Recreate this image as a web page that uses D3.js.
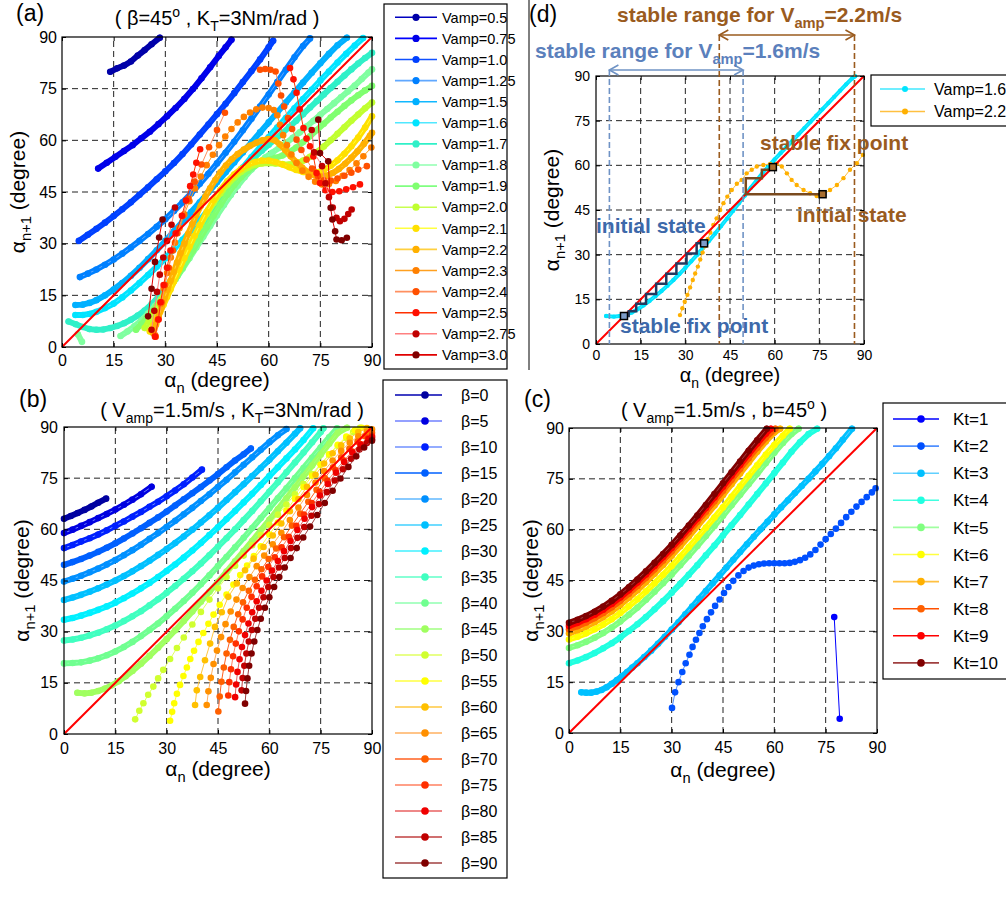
<!DOCTYPE html>
<html>
<head>
<meta charset="utf-8">
<script src="https://cdn.jsdelivr.net/npm/d3@7"></script>
<style>
body { margin: 0; background: #fff; }
svg { font-family: "Liberation Sans", Arial, sans-serif; }
</style>
</head>
<body>
<div id="vis"></div>
<script>
// ---------- data ----------
var degTicks = [0, 15, 30, 45, 60, 75, 90];
var gridVals = [15, 30, 45, 60, 75];

// (a) beta = 45, Kt = 3 : alpha_n, alpha_n+1 pairs (null,null = gap)
var vampNames = ['Vamp=0.5','Vamp=0.75','Vamp=1.0','Vamp=1.25','Vamp=1.5','Vamp=1.6','Vamp=1.7','Vamp=1.8','Vamp=1.9','Vamp=2.0','Vamp=2.1','Vamp=2.2','Vamp=2.3','Vamp=2.4','Vamp=2.5','Vamp=2.75','Vamp=3.0'];
var vampMarker = ['#0000a8','#0000e8','#0040ff','#0080ff','#00b0ff','#00e4ff','#30f0c8','#80ffa0','#80ff70','#c0ff30','#ffe000','#ffb000','#ff8000','#ff5000','#ff1000','#c00000','#800000'];
var vampLine = ['#0000c0','#0000ff','#1050ff','#60a8ff','#10b8ff','#50e8ff','#30f0c8','#90ffb0','#80ff80','#c8ff50','#ffff40','#ffd040','#ffa020','#ff9060','#ff3000','#ff8080','#e00000'];
var vampCurves = [
  [14,79.9, 16,80.9, 18,81.7, 20,82.9, 22,84.6, 24,86.2, 26,87.9, 28.4,89.8],
  [10.5,51.8, 13,53.5, 15.5,55.2, 18,56.9, 20.5,58.6, 23,60.6, 25.5,62.5, 28,64.7, 30.5,67, 33,69.4, 35.5,72, 38,74.9, 40.5,78, 43,81.2, 45.5,84.5, 47.5,87, 49.2,89.2],
  [4.9,30.8, 7.5,32.6, 10,34.3, 12.5,36.1, 15,38, 17.5,40, 20,42, 22.5,44.2, 25,46.4, 27.5,48.7, 30,51, 32.5,53.4, 35,56, 37.5,58.8, 40,61.7, 42.5,64.6, 45,67.6, 47.5,70.6, 50,73.7, 52.5,76.9, 55,80.1, 57.5,83.5, 60,87, 61.3,88.9],
  [5.2,20.3, 7.5,21.3, 10,22.5, 12.5,23.9, 15,25.4, 17.5,27.1, 20,28.9, 22.5,30.8, 25,32.8, 27.5,34.9, 30,37.1, 32.5,39.5, 35,42, 37.5,44.6, 40,47.4, 42.5,50.3, 45,53.3, 47.5,56.4, 50,59.6, 52.5,62.9, 55,66.3, 57.5,69.8, 60,73.3, 62.5,76.9, 65,80.5, 67.5,84.1, 70,87.4, 72,89.6],
  [3.9,12.2, 6,12.3, 8,12.8, 10,13.6, 12.5,15, 15,16.7, 17.5,18.6, 20,20.7, 22.5,23, 25,25.5, 27.5,28.1, 30,30.8, 32.5,33.6, 35,36.4, 37.5,39.2, 40,42, 42.5,44.9, 45,47.8, 47.5,50.7, 50,53.6, 52.5,56.5, 55,59.4, 57.5,62.3, 60,65.2, 62.5,68.1, 65,71, 67.5,73.9, 70,76.8, 72.5,79.6, 75,82.4, 77.5,85.1, 80,87.6, 82.7,89.8],
  [3.9,9.3, 6,9.3, 8,9.6, 10,10.2, 12.5,11.3, 15,12.6, 17.5,14.4, 20,16.4, 22.5,18.6, 25,20.9, 27.5,23.3, 30,25.8, 32.5,28.4, 35,31.1, 37.5,33.9, 40,36.8, 42.5,39.8, 45,42.8, 47.5,45.9, 50,49, 52.5,52.1, 55,55.1, 57.5,58, 60,60.9, 62.5,63.7, 65,66.5, 67.5,69.3, 70,72, 72.5,74.7, 75,77.4, 77.5,80, 80,82.6, 82.5,85.1, 85,87.5, 87.4,89.7],
  [1.9,7.4, 4,6.6, 6,5.8, 8,5.2, 10,5, 12,5.1, 14,5.5, 16,6.1, 18,6.9, 20,7.9, 22,9.1, 24,10.6, 26,12.4, 28,14.6, 30,17.2, 32,20, 34,23, 36,26.1, 38,29.3, 40,32.5, 42,35.7, 44,38.9, 46,42, 48,45, 50,47.9, 52,50.6, 54,53, 56,55.1, 58,57, 60,58.7, 62,60.4, 64,62.1, 66,63.9, 68,65.7, 70,67.6, 72,69.5, 74,71.4, 76,73.3, 78,75.2, 80,77, 82,78.8, 84,80.6, 86,82.3, 88,83.9, 90,85.4],
  [4.6,3.7, 5.8,1.5, null,null, 17,3.2, 19,4.5, 21,6, 23,7.7, 25,9.7, 27,11.9, 29,14.3, 31,16.9, 33,19.7, 35,22.7, 37,25.8, 39,28.9, 41,32, 43,35.1, 45,38.2, 47,41.2, 49,44.1, 51,46.8, 53,49.3, 55,51.5, 57,53.4, 59,55, 61,56.4, 63,57.8, 65,59.2, 67,60.7, 69,62.3, 71,64, 73,65.7, 75,67.4, 77,69.1, 79,70.8, 81,72.5, 83,74.2, 85,75.9, 87,77.8, 89,79.7, 90,80.6],
  [21.5,5, 23,6.6, 24.5,8.3, 26,10.1, 27.5,12, 29,14, 30.5,16.1, 32,18.3, 33.5,20.6, 35,23, 36.5,25.5, 38,28, 40,31.4, 42,34.8, 44,38.1, 46,41.3, 48,44.3, 50,47, 52,49.3, 54,51.2, 56,52.6, 58,53.6, 60,54.3, 62,54.9, 64,55.6, 66,56.6, 68,57.9, 70,59.5, 72,61.2, 74,63, 76,64.8, 78,66.6, 80,68.3, 82,70, 84,71.6, 86,73.1, 88,74.5, 90,75.8],
  [24,5.5, 25.2,7.4, 26.4,9.4, 27.6,11.5, 28.8,13.7, 30,16, 31.3,18.5, 32.6,21, 34,23.7, 35.5,26.6, 37,29.5, 38.5,32.3, 40,35, 42,38.5, 44,41.7, 46,44.6, 48,47.1, 50,49.2, 52,50.9, 54,52.1, 56,52.9, 58,53.3, 60,53.4, 62,53.3, 64,53.1, 66,53, 68,53.3, 70,54.1, 72,55.2, 74,56.6, 76,58.2, 78,60, 80,61.9, 82,63.8, 84,65.7, 86,67.5, 88,69.3, 90,71],
  [25.5,4.5, 26.5,6.3, 27.5,8.2, 28.5,10.2, 29.5,12.3, 30.5,14.5, 31.5,16.7, 32.5,19, 34,22.4, 35.5,25.8, 37,29.1, 38.5,32.3, 40,35.4, 42,39.2, 44,42.6, 46,45.6, 48,48.1, 50,50.1, 52,51.7, 54,52.9, 56,53.7, 58,54.1, 60,54.1, 62,53.7, 64,53, 66,52.2, 68,51.4, 70,50.8, 72,50.5, 74,50.7, 76,51.4, 78,52.6, 80,54.2, 82,56.1, 84,58.3, 86,60.8, 88,63.7, 90,67],
  [26.5,4, 27.3,6.5, 28.1,9, 28.9,11.5, 29.7,14, 30.6,16.6, 31.5,19.2, 32.4,21.8, 33.4,24.5, 34.4,27.2, 35.5,30, 36.6,32.8, 37.8,35.6, 39,38.3, 40.3,41, 41.6,43.6, 43,46.1, 44.5,48.5, 46,50.7, 47.6,52.7, 49.3,54.5, 51,56, 52.8,57.3, 54.6,58.4, 56.4,59.3, 58.2,60, 60,60.4, 61.8,60, 63.3,58.8, 64.8,57.2, 66.4,55.4, 68,53.7, 69.7,52.1, 71.4,50.8, 73.2,49.9, 75,49.5, 76.8,49.7, 78.6,50.5, 80.4,51.7, 82.2,53.2, 84,54.9, 85.8,56.8, 87.6,58.9, 89.4,61.3, 90,62.2],
  [27,3.5, 27.8,8, 28.6,12.5, 29.5,17, 30.5,21.5, 31.6,26, 32.8,30.3, 34.1,34.5, 35.5,38.5, 37,42.3, 38.6,46, 40.3,49.5, 42,52.8, 43.8,55.8, 45.6,58.6, 47.4,61.1, 49.2,63.3, 51,65.2, 52.8,66.8, 54.6,68.1, 56.4,69, 58.2,69.5, 60,69.4, 61.5,68.8, 62.5,67.3, 63.3,64.5, 64.2,61.5, 65.3,58.6, 66.6,55.9, 68.1,53.4, 69.8,51.2, 71.6,49.4, 73.5,48, 75.5,47.2, 77.5,47.3, 79.5,48.2, 81.5,49.7, 83.5,51.4, 85.5,53.3, 87.5,55.4, 89.8,57.9],
  [27.2,3, 28,8, 28.9,13, 29.9,18, 31,23, 32.2,28, 33.5,33, 35,38, 36.7,43, 38.5,48, 40.5,53, 42.7,58, 45,63, 47.3,68, null,null, 57.5,80.5, 59,80.7, 60.5,80.5, 62,80, 62.8,76.5, 63.6,73, 64.5,69.8, 65.6,66.5, 66.8,63.3, 68.1,60.2, 69.5,57.2, 71,54.4, 72.6,51.8, 74.3,49.6, 76,48.4, 78,48.3, 80,48.9, 82,49.7, 84,50.6, 86,51.5, 88.5,52.5],
  [27,3, 28,8, 28.6,13, 29.5,18, 30.5,23, 31.5,28, 33,33, 34.8,38.1, 36,42.5, 37.2,46.7, 38.1,50.1, 39,53.5, 40.1,57.4, null,null, 66.2,81, 67.2,77.7, 68.1,73.8, 69,69, 70.1,63.6, 71,60.5, 72,58.3, 73,55.3, 73.9,50.5, 74.9,47.6, 76.5,45.5, 78.5,45, 80.5,45.2, 82.5,45.8, 84.5,46.4, 86.5,47.2],
  [26,5, 26.8,10.5, 27.6,16, 28.4,21, 29.4,26, 30.5,30.8, 31.8,35.5, 32.8,40.5, null,null, 72.5,63, 73.2,56.5, 75.5,52.5, 76.5,47.5, 77.5,43.5, 78.6,40.5, 79.7,37.5, 80.7,36.5, 82,37.2, 83.1,38.6, 84.1,39.9],
  [25,8.9, 26,16.9, 27,24.7, 28.2,31.8, 29.2,37, null,null, 74.4,66, 74.9,56.3, 77.3,53.9, 78,40.4, 78.5,37, 79.3,33.6, 79.7,31.2, 81.2,31, 82.7,31.7]
];
var vampDense = [1,1,1,1,1,1,1,1,1,1,1,1,0,0,0,0,0];

// (b) Vamp = 1.5, Kt = 3
var betaNames = ['β=0','β=5','β=10','β=15','β=20','β=25','β=30','β=35','β=40','β=45','β=50','β=55','β=60','β=65','β=70','β=75','β=80','β=85','β=90'];
var betaMarker = ['#0000a0','#0000e0','#0020ff','#0060ff','#0090ff','#00c0ff','#00f0ff','#40ffc0','#70ff90','#a0ff60','#d0ff30','#ffff00','#ffc000','#ff9000','#ff6000','#ff3000','#f00000','#c00000','#800000'];
var betaLine = ['#0000b0','#7080ff','#7090ff','#0060ff','#60b8ff','#40d0ff','#40f0ff','#60ffc8','#90ffb0','#a0ff80','#e0ff60','#ffff40','#ffc840','#ffb060','#ff6020','#ff8060','#e86060','#c04040','#a04040'];
var betaCurves = [
  [0,63.1, 2,63.9, 4,64.8, 6,65.7, 8,66.7, 10,67.8, 12.3,69],
  [0,58.9, 2.5,59.9, 5,61, 7.5,62.1, 10,63.3, 12.5,64.5, 15,65.8, 17.5,67.2, 20,68.7, 22.5,70.3, 25.6,72.5],
  [0,54.5, 2.5,55.4, 5,56.4, 7.5,57.4, 10,58.5, 12.5,59.7, 15,61, 17.5,62.3, 20,63.7, 22.5,65.1, 25,66.6, 27.5,68.1, 30,69.7, 32.5,71.4, 35,73.2, 37.5,75.2, 40.3,77.5],
  [0,49.6, 2.5,50.4, 5,51.3, 7.5,52.3, 10,53.4, 12.5,54.6, 15,55.9, 17.5,57.3, 20,58.8, 22.5,60.3, 25,61.9, 27.5,63.5, 30,65.2, 32.5,67, 35,68.8, 37.5,70.6, 40,72.4, 42.5,74.3, 45,76.2, 47.5,78.2, 50,80.2, 52.5,82, 54.6,83.7],
  [0,44.7, 2.5,45.5, 5,46.4, 7.5,47.4, 10,48.5, 12.5,49.7, 15,51, 17.5,52.4, 20,53.9, 22.5,55.5, 25,57.2, 27.5,58.9, 30,60.7, 32.5,62.5, 35,64.4, 37.5,66.3, 40,68.3, 42.5,70.3, 45,72.4, 47.5,74.5, 50,76.7, 52.5,78.9, 55,81.1, 57.5,83.3, 60,85.5, 62.5,87.6, 65,89.4],
  [0,39.3, 2.5,40, 5,40.8, 7.5,41.7, 10,42.7, 12.5,43.8, 15,45, 17.5,46.3, 20,47.7, 22.5,49.2, 25,50.8, 27.5,52.5, 30,54.2, 32.5,56, 35,57.9, 37.5,59.9, 40,62, 42.5,64.1, 45,66.3, 47.5,68.6, 50,70.9, 52.5,73.2, 55,75.6, 57.5,78, 60,80.4, 62.5,82.9, 65,85.4, 67.5,88, 69,89.6],
  [0,33.5, 2.5,34, 5,34.7, 7.5,35.5, 10,36.4, 12.5,37.4, 15,38.5, 17.5,39.8, 20,41.2, 22.5,42.7, 25,44.3, 27.5,46, 30,47.8, 32.5,49.7, 35,51.7, 37.5,53.8, 40,56, 42.5,58.3, 45,60.6, 47.5,63, 50,65.4, 52.5,67.9, 55,70.4, 57.5,73, 60,75.6, 62.5,78.2, 65,80.8, 67.5,83.4, 70,86.2, 72.8,89.6],
  [0,27.4, 2.5,27.7, 5,28.2, 7.5,28.9, 10,29.7, 12.5,30.7, 15,31.8, 17.5,33.1, 20,34.5, 22.5,36, 25,37.7, 27.5,39.5, 30,41.4, 32.5,43.4, 35,45.5, 37.5,47.7, 40,50, 42.5,52.4, 45,54.9, 47.5,57.4, 50,60, 52.5,62.7, 55,65.4, 57.5,68.2, 60,71, 62.5,73.8, 65,76.7, 67.5,79.6, 70,82.5, 72.5,85.5, 75,88.5, 75.8,89.6],
  [0,20.7, 2.5,20.8, 5,21, 7.5,21.5, 10,22.2, 12.5,23.1, 15,24.2, 17.5,25.5, 20,27, 22.5,28.7, 25,30.5, 27.5,32.4, 30,34.5, 32.5,36.7, 35,39, 37.5,41.4, 40,43.9, 42.5,46.5, 45,49.2, 47.5,51.9, 50,54.7, 52.5,57.5, 55,60.4, 57.5,63.3, 60,66.2, 62.5,69.1, 65,72, 67.5,75, 70,78, 72.5,81, 75,84, 77.5,87, 79.8,89.6],
  [3.9,12.1, 6,11.9, 8,12.1, 10,12.6, 12,13.3, 14,14.3, 16,15.5, 18,16.9, 20,18.5, 22.5,20.6, 25,22.9, 27.5,25.3, 30,27.8, 32.5,30.4, 35,33.1, 37.5,35.9, 40,38.8, 42.5,41.7, 45,44.6, 47.5,47.6, 50,50.6, 52.5,53.6, 55,56.6, 57.5,59.7, 60,62.8, 62.5,65.9, 65,69.1, 67.5,72.3, 70,75.5, 72.5,78.7, 75,81.9, 77.5,85.1, 80,88.3, 82.7,89.8],
  [20.8,4.3, 22,6.8, 23.2,9, 24.6,11.5, 26.1,13.9, 27.5,16.3, 29,18.8, 31,22, 33,25.2, 35,28.3, 37.5,32.1, 40,35.8, 42.5,39.4, 45,42.7, 47.5,46, 50,49.3, 52.5,52.3, 55,55.3, 57.5,58.3, 60,61.3, 62.5,64.3, 65,67.3, 67.5,70.3, 70,73.3, 72.5,76.2, 75,79.1, 77.5,81.9, 80,84.5, 82.5,86.8, 84.5,88.5, 86.5,89.8],
  [31,3.9, 31.6,6.5, 32.2,9, 33,11.8, 33.9,14.4, 34.9,17, 35.9,19.5, 36.9,22, 38,24.4, 39.3,27, 40.7,29.6, 42.2,32.3, 43.7,35, 45.5,37.9, 47.5,40.9, 49.5,43.8, 51.5,46.6, 53.5,49.4, 55.5,52.2, 57.5,55, 60,58.5, 62.5,62, 65,65.5, 67.5,69, 70,72.4, 72.5,75.7, 75,78.9, 77.5,82, 80,84.8, 82.5,87.2, 85,89.1, 87,89.8],
  [38.3,8.5, 38.8,12.8, 39.8,16.7, 41.2,21.6, 42.7,26.5, 44.1,31.4, 46.1,35.7, 48,40.2, 50.5,44.1, 52.9,48, 55.4,51.4, 58.3,54.8, 61,58.2, 63.5,61.7, 66,65.3, 68.5,68.9, 71,72.5, 73.5,76, 76,79.3, 78.5,82.3, 81,84.6, 83.5,86.7, 86,88.5, 88.5,89.7],
  [41.7,8.5, 42.2,12.5, 42.9,16.5, 43.7,20.5, 44.7,24.5, 45.9,28.4, 47.2,32.2, 48.7,35.9, 50.4,39.4, 52.2,42.8, 54.2,46, 56.3,49.2, 58.5,52.3, 61,55.6, 63.5,59, 66,62.7, 68.5,66.4, 71,70.1, 73.5,73.7, 76,77.1, 78.5,80.2, 81,83, 83.5,85.4, 86,87.3, 88.5,88.7, 90,89.3],
  [45.1,6.6, 45.5,11, 46,15.3, 46.7,19.5, 47.5,23.6, 48.5,27.6, 49.6,31.4, 50.9,35.1, 52.3,38.6, 54,42, 55.8,45.2, 57.7,48.3, 59.8,51.3, 62,54.4, 64.3,57.7, 66.6,61.1, 69,64.6, 71.4,68.1, 73.8,71.6, 76.2,75, 78.6,78.2, 81,81.1, 83.4,83.6, 85.8,85.7, 88,87.3, 90,88.3],
  [48,11.3, 48.3,15.2, 48.8,19, 49.4,22.8, 50.2,26.5, 51.1,30.1, 52.2,33.6, 53.4,37, 54.8,40.2, 56.3,43.3, 57.9,46.2, 59.7,49, 61.6,51.8, 63.6,54.7, 65.7,57.8, 67.9,61, 70.1,64.3, 72.4,67.7, 74.7,71, 77,74.2, 79.4,77.3, 81.8,80.2, 84.2,82.8, 86.6,85, 88.8,86.7, 90,87.4],
  [50,10.8, 50.3,14.5, 50.7,18.2, 51.3,21.9, 52,25.5, 52.9,29, 53.9,32.4, 55,35.7, 56.3,38.9, 57.7,42, 59.2,45, 60.8,47.9, 62.5,50.7, 64.3,53.6, 66.2,56.6, 68.2,59.8, 70.3,63.1, 72.5,66.5, 74.8,69.9, 77.1,73.3, 79.5,76.6, 81.9,79.7, 84.3,82.5, 86.7,84.8, 89,86.5, 90,87],
  [51.9,12.8, 52.2,16.4, 52.7,20, 53.3,23.6, 54,27.1, 54.9,30.5, 55.9,33.8, 57,37, 58.3,40.1, 59.7,43.1, 61.2,46, 62.8,48.8, 64.5,51.6, 66.3,54.5, 68.2,57.5, 70.2,60.7, 72.3,64, 74.5,67.4, 76.8,70.9, 79.1,74.3, 81.5,77.6, 83.9,80.7, 86.3,83.4, 88.5,85.3, 90,86.3],
  [52.9,8.9, 53.2,12.6, 53.6,16.3, 54.1,20, 54.8,23.6, 55.6,27.1, 56.5,30.5, 57.5,33.8, 58.7,37, 60,40.1, 61.4,43.1, 62.9,46, 64.5,48.8, 66.2,51.6, 68,54.5, 69.9,57.6, 71.9,60.8, 74,64.2, 76.2,67.7, 78.5,71.3, 80.8,74.9, 83.1,78.3, 85.4,81.4, 87.7,84, 90,86]
];
var betaDense = [1,1,1,1,1,1,1,1,1,1,0,0,0,0,0,0,0,0,0];

// (c) Vamp = 1.5, beta = 45
var ktNames = ['Kt=1','Kt=2','Kt=3','Kt=4','Kt=5','Kt=6','Kt=7','Kt=8','Kt=9','Kt=10'];
var ktMarker = ['#0000ff','#0050ff','#00c0ff','#20ffe0','#80ff80','#ffff00','#ffb000','#ff6000','#ff0000','#800000'];
var ktLine = ['#0000ff','#5090ff','#60d0ff','#40ffe0','#a0ffa0','#ffff40','#ffc040','#ff5000','#ff0000','#a04040'];
var ktCurves = [
  [77.5,34.2, 79.1,4.2],
  [30.1,7.4, 31,12, 32,15, 33.1,18, 34.1,20.6, 35.2,23.1, 36.1,25.4, 37.1,27.5, 38.1,29.5, 39.1,31.5, 40.3,33.6, 41.5,35.6, 42.7,37.5, 44,39.4, 45.3,41.3, 46.6,43.1, 48,44.9, 49.5,46.5, 51,47.8, 52.5,48.8, 54,49.4, 55.5,49.8, 57,50, 58.5,50.1, 60,50.1, 61.5,50.1, 63,50.1, 64.5,50.2, 66,50.5, 67.5,51, 69,51.7, 70.5,52.7, 72,54, 73.5,55.6, 75,57.2, 76.5,58.7, 78,60.3, 79.5,62, 81,63.7, 82.5,65.3, 84,66.8, 85.5,68.2, 87,69.6, 88.5,71, 89.6,72.2],
  [3.6,12, 5,11.9, 6.5,11.9, 8,12.2, 9.5,12.7, 11,13.5, 12.5,14.5, 14,15.6, 15.5,16.8, 17,18, 18.5,19.3, 20,20.6, 22,22.4, 24,24.3, 26,26.3, 28,28.4, 30,30.5, 32,32.7, 34,35, 36,37.3, 38,39.6, 40,41.9, 42,44.2, 44,46.5, 46,48.8, 48,51.1, 50,53.4, 52,55.7, 54,57.9, 56,60.1, 58,62.3, 60,64.5, 62,66.6, 64,68.7, 66,70.8, 68,72.9, 70,75, 72,77.2, 74,79.4, 76,81.7, 78,84, 80,86.5, 82.7,89.8],
  [0,20.6, 2.5,21.4, 5,22.4, 7.5,23.6, 10,25, 12.5,26.5, 15,28.2, 17.5,30.1, 20,32.1, 22.5,34.2, 25,36.5, 27.5,38.9, 30,41.4, 32.5,44, 35,46.7, 37.5,49.5, 40,52.4, 42.5,55.3, 45,58.3, 47.5,61.3, 50,64.3, 52.5,67.4, 55,70.5, 57.5,73.6, 60,76.7, 62.5,79.8, 65,83, 67.5,85.8, 70,88.2, 72.5,89.8],
  [0,25.1, 2.5,25.9, 5,26.9, 7.5,28.1, 10,29.5, 12.5,31.1, 15,32.9, 17.5,34.9, 20,37, 22.5,39.3, 25,41.7, 27.5,44.2, 30,46.8, 32.5,49.5, 35,52.3, 37.5,55.2, 40,58.1, 42.5,61.1, 45,64.1, 47.5,67.2, 50,70.3, 52.5,73.4, 55,76.5, 57.5,79.6, 60,82.7, 62.5,85.6, 65,88.2, 67.1,89.8],
  [0,27.6, 2.5,28.4, 5,29.4, 7.5,30.6, 10,32, 12.5,33.6, 15,35.4, 17.5,37.4, 20,39.5, 22.5,41.8, 25,44.2, 27.5,46.7, 30,49.3, 32.5,52, 35,54.8, 37.5,57.7, 40,60.6, 42.5,63.6, 45,66.6, 47.5,69.7, 50,72.8, 52.5,75.9, 55,79, 57.5,82.1, 60,85, 62.5,87.7, 64.5,89.8],
  [0,29.4, 2.5,30.3, 5,31.4, 7.5,32.7, 10,34.2, 12.5,35.9, 15,37.8, 17.5,39.9, 20,42.1, 22.5,44.5, 25,47, 27.5,49.6, 30,52.3, 32.5,55.1, 35,58, 37.5,61, 40,64, 42.5,67.1, 45,70.2, 47.5,73.4, 50,76.6, 52.5,79.8, 55,83, 57.5,86, 60,88.7, 61.7,89.8],
  [0,30.6, 2.5,31.5, 5,32.6, 7.5,33.9, 10,35.4, 12.5,37.1, 15,39, 17.5,41.1, 20,43.4, 22.5,45.8, 25,48.3, 27.5,50.9, 30,53.6, 32.5,56.4, 35,59.3, 37.5,62.3, 40,65.3, 42.5,68.4, 45,71.5, 47.5,74.7, 50,77.9, 52.5,81.1, 55,84.2, 57.5,87.1, 60.3,89.8],
  [0,31.6, 2.5,32.5, 5,33.6, 7.5,34.9, 10,36.4, 12.5,38.1, 15,40, 17.5,42.1, 20,44.4, 22.5,46.8, 25,49.3, 27.5,51.9, 30,54.6, 32.5,57.4, 35,60.3, 37.5,63.3, 40,66.4, 42.5,69.5, 45,72.7, 47.5,75.9, 50,79.1, 52.5,82.3, 55,85.4, 57.5,88.3, 59,89.8],
  [0,32.5, 2.5,33.4, 5,34.5, 7.5,35.8, 10,37.3, 12.5,39, 15,40.9, 17.5,43, 20,45.3, 22.5,47.7, 25,50.2, 27.5,52.8, 30,55.5, 32.5,58.3, 35,61.2, 37.5,64.2, 40,67.3, 42.5,70.5, 45,73.7, 47.5,76.9, 50,80.1, 52.5,83.3, 55,86.4, 57.8,89.8]
];
var ktDense = [0,0,1,1,1,1,1,1,1,1];

// (d) beta = 45, Kt = 3 : two speeds with cobweb iterations
var dNames = ['Vamp=1.6', 'Vamp=2.2'];
var dMarker = ['#00e5ff', '#ffb000'];
var dLine = ['#40e8ff', '#ffc040'];
var dCurves = [
  [3.4,9.4, 6,9.2, 8,9.4, 10,9.8, 12,10.6, 14,11.7, 16,13, 18,14.5, 20,16.1, 22,17.8, 24,19.6, 26,21.5, 28,23.5, 30,25.6, 32,27.8, 34,30, 36,32.3, 38,34.7, 40,37.1, 42,39.6, 44,42.1, 46,44.7, 48,47.3, 50,49.9, 52,52.5, 54,55, 56,57.5, 58,59.8, 60,62, 62,64.1, 64,66.2, 66,68.3, 68,70.4, 70,72.5, 72,74.6, 74,76.7, 76,78.8, 78,80.9, 80,83, 82,85.1, 84,87.2, 86,89.2, 87,89.9],
  [28.2,9.7, 29,12, 29.8,14.2, 30.7,16.5, 31.6,19, 32.5,21.5, 33.3,23.7, 34.2,26, 35,28.4, 35.8,30.7, 36.7,32.9, 37.5,35.2, 38.4,37.4, 39.4,40, 40.5,42.2, 41.7,45, 42.8,47.3, 44.1,49.5, 45.6,51.7, 47.3,53.8, 48.9,55.1, 50.6,57.3, 52.3,58.5, 54,59.6, 56.2,60.1, 58.5,60.5, 60.7,60.5, 62.4,59.6, 64.1,57.3, 65.7,55.1, 67.4,53.4, 69.7,51.7, 71.9,50.6, 74.1,49.7, 76.4,50.3, 78.6,51.7, 80.9,53.4, 83.1,55.7, 85.3,58.5, 87.6,60.7, 89.6,63.5]
];
var dDense = [1, 0];
var cobwebBlue = [36.3, 33.8, 30.4, 27.0, 23.6, 20.2, 16.8, 13.5, 11.0, 9.4];
var cobwebBrown = [76.1, 50.3, 55.7, 58.5, 59.4];
var rangeBlue = [4.5, 49.4];
var rangeBrown = [41.4, 86.8];

// ---------- drawing ----------
var svg = d3.select('#vis').append('svg')
  .attr('width', 1006)
  .attr('height', 904);

function toPoints(flat) {
  var out = [];
  for (var i = 0; i < flat.length; i += 2) {
    out.push(flat[i] === null ? null : [flat[i], flat[i + 1]]);
  }
  return out;
}

// text with sub/superscript parts: [['V',''],['amp','sub'],...]
function rich(sel, parts, size) {
  var shift = 0;
  parts.forEach(function(p) {
    var s = p[1] === 'sub' ? size * 0.28 : (p[1] === 'sup' ? -size * 0.4 : 0);
    var t = sel.append('tspan').attr('dy', s - shift).text(p[0]);
    if (p[1]) t.attr('font-size', size * 0.7);
    shift = s;
  });
}

function drawPanel(p) {
  var x = d3.scaleLinear().domain([0, 90]).range([p.left, p.right]);
  var y = d3.scaleLinear().domain([0, 90]).range([p.bottom, p.top]);
  var g = svg.append('g');

  g.selectAll('line.gx').data(gridVals).enter().append('line')
    .attr('x1', function(d) { return x(d); }).attr('x2', function(d) { return x(d); })
    .attr('y1', y(0)).attr('y2', y(90))
    .attr('stroke', '#222').attr('stroke-dasharray', '6,4');
  g.selectAll('line.gy').data(gridVals).enter().append('line')
    .attr('y1', function(d) { return y(d); }).attr('y2', function(d) { return y(d); })
    .attr('x1', x(0)).attr('x2', x(90))
    .attr('stroke', '#222').attr('stroke-dasharray', '6,4');

  var line = d3.line().defined(function(d) { return d; })
    .x(function(d) { return x(d[0]); })
    .y(function(d) { return y(d[1]); });

  p.curves.forEach(function(c, i) {
    var pts = toPoints(c);
    if (p.dense[i]) {
      g.append('path').attr('d', line(pts)).attr('fill', 'none')
        .attr('stroke', p.marker[i]).attr('stroke-width', p.r * 1.8)
        .attr('stroke-linejoin', 'round').attr('stroke-linecap', 'round');
    }
    g.append('path').attr('d', line(pts)).attr('fill', 'none')
      .attr('stroke', p.line[i]).attr('stroke-width', 1);
    g.selectAll(null).data(pts.filter(function(d) { return d; })).enter().append('circle')
      .attr('cx', function(d) { return x(d[0]); })
      .attr('cy', function(d) { return y(d[1]); })
      .attr('r', p.r)
      .attr('fill', p.marker[i]);
  });

  g.append('line')
    .attr('x1', x(0)).attr('y1', y(0)).attr('x2', x(90)).attr('y2', y(90))
    .attr('stroke', '#ff0000').attr('stroke-width', 2);

  g.append('rect')
    .attr('x', p.left).attr('y', p.top)
    .attr('width', p.right - p.left).attr('height', p.bottom - p.top)
    .attr('fill', 'none').attr('stroke', '#000').attr('stroke-width', 1.2);

  var xa = g.append('g').attr('transform', 'translate(0,' + p.bottom + ')')
    .call(d3.axisBottom(x).tickValues(degTicks).tickSizeInner(-4).tickSizeOuter(0).tickPadding(p.xPad));
  var ya = g.append('g').attr('transform', 'translate(' + p.left + ',0)')
    .call(d3.axisLeft(y).tickValues(degTicks).tickSizeInner(-4).tickSizeOuter(0).tickPadding(p.yPad));
  g.append('g').attr('transform', 'translate(0,' + p.top + ')')
    .call(d3.axisTop(x).tickValues(degTicks).tickSizeInner(-4).tickSizeOuter(0).tickFormat(''));
  g.append('g').attr('transform', 'translate(' + p.right + ',0)')
    .call(d3.axisRight(y).tickValues(degTicks).tickSizeInner(-4).tickSizeOuter(0).tickFormat(''));
  g.selectAll('.domain').remove();
  g.selectAll('.tick text').attr('font-size', p.tickSize).attr('font-family', null).attr('fill', '#000');
  g.selectAll('.tick line').attr('stroke', '#000');
  xa.attr('font-family', null);
  ya.attr('font-family', null);

  // axis labels
  var xl = svg.append('text').attr('x', (p.left + p.right) / 2).attr('y', p.xLabelY)
    .attr('text-anchor', 'middle').attr('font-size', p.labelSize);
  rich(xl, [['α', ''], ['n', 'sub'], [' (degree)', '']], p.labelSize);
  var yl = svg.append('text')
    .attr('transform', 'translate(' + p.yLabelX + ',' + (p.top + p.bottom) / 2 + ') rotate(-90)')
    .attr('text-anchor', 'middle').attr('font-size', 21);
  rich(yl, [['α', ''], ['n+1', 'sub'], [' (degree)', '']], 21);

  if (p.title) {
    var tt = svg.append('text').attr('x', p.titleX).attr('y', p.titleY)
      .attr('text-anchor', 'middle').attr('font-size', 20);
    rich(tt, p.title, 20);
  }
  svg.append('text').attr('x', p.tagX).attr('y', p.tagY)
    .attr('font-size', 23).text(p.tag);

  return { x: x, y: y, g: g };
}

function drawLegend(l) {
  var g = svg.append('g');
  g.append('rect').attr('x', l.x).attr('y', l.y).attr('width', l.w).attr('height', l.h)
    .attr('fill', '#fff').attr('stroke', '#000').attr('stroke-width', 1.2);
  var row = g.selectAll('g.row').data(l.names).enter().append('g')
    .attr('transform', function(d, i) { return 'translate(0,' + (l.y0 + i * l.step) + ')'; });
  row.append('line').attr('x1', l.lx1).attr('x2', l.lx2).attr('y1', 0).attr('y2', 0)
    .attr('stroke', function(d, i) { return l.line[i]; }).attr('stroke-width', 1.6);
  row.append('circle').attr('cx', l.dx).attr('cy', 0).attr('r', l.r)
    .attr('fill', function(d, i) { return l.marker[i]; });
  row.append('text').attr('x', l.tx).attr('y', l.fs * 0.36)
    .attr('font-size', l.fs).text(function(d) { return d; });
}

// panel (a)
drawPanel({
  left: 62, right: 372, top: 37, bottom: 347, r: 3.3,
  curves: vampCurves, marker: vampMarker, line: vampLine, dense: vampDense,
  xPad: 8, yPad: 5, tickSize: 16, labelSize: 21, xLabelY: 387, yLabelX: 25,
  title: [['( β=45', ''], ['o', 'sup'], [' , K', ''], ['T', 'sub'], ['=3Nm/rad )', '']],
  titleX: 217, titleY: 25, tag: '(a)', tagX: 16, tagY: 21
});
drawLegend({
  x: 384, y: 4, w: 123, h: 365, names: vampNames, marker: vampMarker, line: vampLine,
  y0: 17.3, step: 21.1, lx1: 395, lx2: 437, dx: 416, r: 3.6, tx: 442, fs: 14.5
});

// panel (b)
drawPanel({
  left: 64, right: 372, top: 427, bottom: 734, r: 3.3,
  curves: betaCurves, marker: betaMarker, line: betaLine, dense: betaDense,
  xPad: 9, yPad: 6, tickSize: 16, labelSize: 21, xLabelY: 776, yLabelX: 29,
  title: [['( V', ''], ['amp', 'sub'], ['=1.5m/s , K', ''], ['T', 'sub'], ['=3Nm/rad )', '']],
  titleX: 232, titleY: 417, tag: '(b)', tagX: 19, tagY: 407
});
drawLegend({
  x: 383, y: 380, w: 124, h: 498, names: betaNames, marker: betaMarker, line: betaLine,
  y0: 395, step: 26, lx1: 395, lx2: 442, dx: 425, r: 3.8, tx: 461, fs: 16
});

// panel (c)
drawPanel({
  left: 569, right: 877, top: 428, bottom: 733, r: 3.3,
  curves: ktCurves, marker: ktMarker, line: ktLine, dense: ktDense,
  xPad: 8.5, yPad: 5, tickSize: 16, labelSize: 21, xLabelY: 777, yLabelX: 538,
  title: [['( V', ''], ['amp', 'sub'], ['=1.5m/s , b=45', ''], ['o', 'sup'], [' )', '']],
  titleX: 724, titleY: 417, tag: '(c)', tagX: 524, tagY: 407
});
drawLegend({
  x: 883, y: 403, w: 140, h: 276, names: ktNames, marker: ktMarker, line: ktLine,
  y0: 419, step: 27.1, lx1: 893, lx2: 939, dx: 921, r: 3.8, tx: 953, fs: 17
});

// separator line left of panel (d)
svg.append('line').attr('x1', 529).attr('x2', 529).attr('y1', 0).attr('y2', 370)
  .attr('stroke', '#000').attr('stroke-width', 1);

// panel (d)
var pd = drawPanel({
  left: 596, right: 864, top: 76, bottom: 344, r: 2.2,
  curves: dCurves, marker: dMarker, line: dLine, dense: dDense,
  xPad: 6, yPad: 6, tickSize: 14, labelSize: 20, xLabelY: 382, yLabelX: 559,
  title: null, tag: '(d)', tagX: 529, tagY: 22
});
drawLegend({
  x: 871, y: 75, w: 150, h: 51, names: dNames, marker: dMarker, line: dLine,
  y0: 89, step: 22.5, lx1: 880, lx2: 925, dx: 905, r: 3, tx: 934, fs: 16
});

var dx = pd.x, dy = pd.y, dg = pd.g;
var blueA = '#6f93c5', brownA = '#9a5b1e';

// stable range dashed lines and arrows
function rangeMarks(vals, color, yTop) {
  vals.forEach(function(v) {
    dg.append('line').attr('x1', dx(v)).attr('x2', dx(v)).attr('y1', yTop).attr('y2', dy(0))
      .attr('stroke', color).attr('stroke-width', 1.6).attr('stroke-dasharray', '6,3');
  });
  var a = dx(vals[0]), b = dx(vals[1]);
  dg.append('line').attr('x1', a).attr('x2', b).attr('y1', yTop).attr('y2', yTop)
    .attr('stroke', color).attr('stroke-width', 1.6);
  dg.append('path')
    .attr('d', 'M' + (a + 9) + ',' + (yTop - 5) + 'L' + a + ',' + yTop + 'L' + (a + 9) + ',' + (yTop + 5) +
      'M' + (b - 9) + ',' + (yTop - 5) + 'L' + b + ',' + yTop + 'L' + (b - 9) + ',' + (yTop + 5))
    .attr('fill', 'none').attr('stroke', color).attr('stroke-width', 1.6);
}
rangeMarks(rangeBlue, blueA, 70);
rangeMarks(rangeBrown, brownA, 35);

// cobweb staircases
function cobweb(seq, color, fill) {
  var pts = [[seq[0], seq[1]]];
  for (var k = 1; k < seq.length; k++) {
    pts.push([seq[k], seq[k]]);
    if (k + 1 < seq.length) pts.push([seq[k], seq[k + 1]]);
  }
  dg.append('path')
    .attr('d', d3.line().x(function(d) { return dx(d[0]); }).y(function(d) { return dy(d[1]); })(pts))
    .attr('fill', 'none').attr('stroke', color).attr('stroke-width', 2.5);
  [pts[0], pts[pts.length - 1]].forEach(function(d) {
    dg.append('rect').attr('x', dx(d[0]) - 3.5).attr('y', dy(d[1]) - 3.5)
      .attr('width', 7).attr('height', 7)
      .attr('fill', fill).attr('stroke', '#000').attr('stroke-width', 1.5);
  });
}
cobweb(cobwebBlue, '#243a60', '#7d9cc8');
cobweb(cobwebBrown, '#7a4a1e', '#a86e30');

// annotations
function note(x, y, parts, color) {
  var t = svg.append('text').attr('x', x).attr('y', y)
    .attr('font-size', 21).attr('font-weight', 'bold').attr('fill', color);
  rich(t, parts, 21);
}
note(617, 22, [['stable range for V', ''], ['amp', 'sub'], ['=2.2m/s', '']], brownA);
note(535, 58, [['stable range for V', ''], ['amp', 'sub'], ['=1.6m/s', '']], '#5b80bc');
note(596, 233, [['initial state', '']], '#3d69aa');
note(620, 333, [['stable fix point', '']], '#3d69aa');
note(760, 150, [['stable fix point', '']], brownA);
note(797, 222, [['initial state', '']], brownA);
</script>
</body>
</html>
